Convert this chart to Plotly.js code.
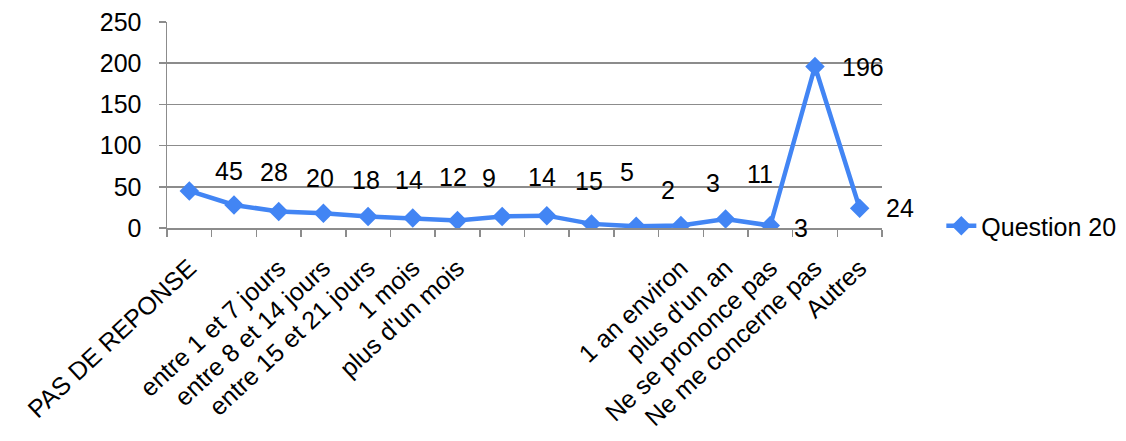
<!DOCTYPE html>
<html>
<head>
<meta charset="utf-8">
<script src="https://cdn.plot.ly/plotly-3.0.1.min.js"></script>
<style>html,body{margin:0;padding:0;background:#fff;}#chart{width:1126px;height:441px;}</style>
</head>
<body>
<div id="chart"></div>
<script>
// Data
const categories = ["PAS DE REPONSE", "", "entre 1 et 7 jours", "entre 8 et 14 jours", "entre 15 et 21 jours", "1 mois", "plus d'un mois", "", "", "", "", "1 an environ", "plus d'un an", "Ne se prononce pas", "Ne me concerne pas", "Autres"];
const values = [45, 28, 20, 18, 14, 12, 9, 14, 15, 5, 2, 3, 11, 3, 196, 24];
const yTicks = [0, 50, 100, 150, 200, 250];
const seriesName = "Question 20";

// Label offsets (styling, px)
const labelDx = [40, 40, 41, 43, 41, 40, 32, 40, 42, 35, 32, 32, 34, 31, 48, 40];
const labelDy = [20, 33, 34, 33, 36, 41, 43, 39, 35, 52, 36, 43, 45, -2, 0, 0];

const idx = categories.map((_, i) => i);
const FONT = "Liberation Sans, Arial, sans-serif";
const FS = 25;
const BLUE = "#4285F4";
const GRID = "#8c8c8c";

const trace = {
  x: idx, y: values, type: "scatter", mode: "lines+markers", name: seriesName,
  line: {color: BLUE, width: 4.5},
  marker: {symbol: "diamond", size: 15, color: BLUE},
  hoverinfo: "skip"
};

const annotations = values.map((v, i) => ({
  x: i, y: v, xref: "x", yref: "y", text: String(v), showarrow: false,
  xshift: labelDx[i], yshift: labelDy[i], xanchor: "center", yanchor: "middle",
  font: {family: FONT, size: FS, color: "#000"}
}));

const boundaries = [];
for (let i = 0; i <= categories.length; i++) boundaries.push(i - 0.5);

const layout = {
  width: 1126, height: 441,
  margin: {l: 167, r: 244, t: 22, b: 213},
  paper_bgcolor: "#fff", plot_bgcolor: "#fff",
  font: {family: FONT, size: FS, color: "#000"},
  showlegend: true,
  legend: {xref: "container", yref: "container", x: 0.836, xanchor: "left", y: 0.4875, yanchor: "middle",
           font: {family: FONT, size: FS, color: "#000"}, bgcolor: "rgba(0,0,0,0)"},
  xaxis: {
    range: [-0.5, categories.length - 0.5], tickmode: "array", tickvals: idx, ticktext: categories,
    tickangle: -43, ticks: "", showgrid: false, zeroline: false, automargin: false,
    showline: true, linecolor: GRID, linewidth: 1.5, ticklabelstandoff: 14,
    tickfont: {family: FONT, size: FS, color: "#000"},
    minor: {tickmode: "array", tickvals: boundaries, ticks: "outside", ticklen: 7, tickcolor: GRID, tickwidth: 1.5, showgrid: false}
  },
  yaxis: {
    range: [0, 250], tickmode: "array", tickvals: yTicks, ticks: "outside", ticklen: 7, tickcolor: GRID, tickwidth: 1.5,
    showgrid: true, gridcolor: GRID, gridwidth: 1.5, zeroline: false, automargin: false,
    showline: true, linecolor: GRID, linewidth: 1.5, ticklabelstandoff: 12,
    tickfont: {family: FONT, size: FS, color: "#000"}
  },
  annotations: annotations
};

Plotly.newPlot("chart", [trace], layout, {staticPlot: true, displayModeBar: false});
</script>
</body>
</html>
